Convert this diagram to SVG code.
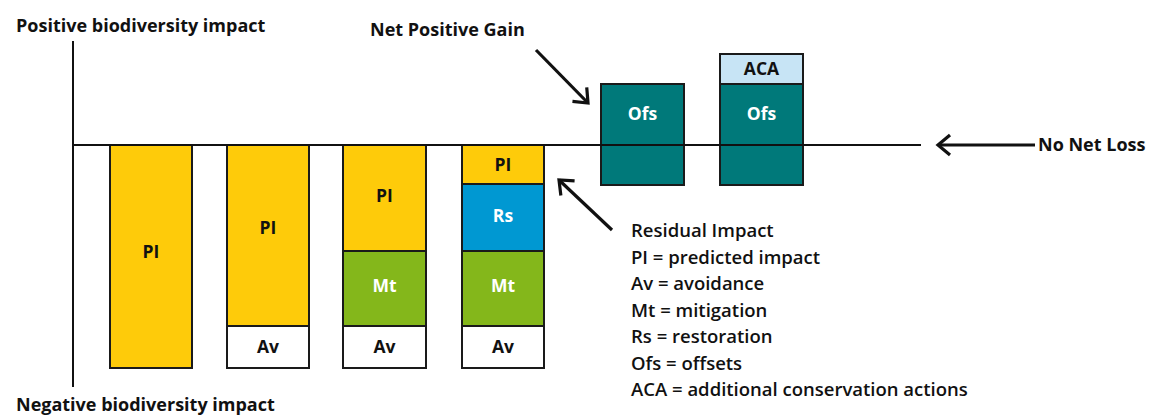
<svg xmlns="http://www.w3.org/2000/svg" width="1149" height="417" viewBox="0 0 1149 417">
<defs>
<style>
.t{font-family:"Open Sans","Liberation Sans",sans-serif;font-weight:700;fill:#111;}
.h{font-size:18px;}
.lab{font-size:17.5px;text-anchor:middle;}
.w{fill:#fff;}
.leg{font-family:"Open Sans","Liberation Sans",sans-serif;font-weight:600;font-size:18.5px;fill:#111;}
.box{stroke:#1a1a1a;stroke-width:2;}
.pi{fill:#FECB0A;}
.av{fill:#ffffff;}
.mt{fill:#84B71B;}
.rs{fill:#0098D2;}
.ofs{fill:#00797A;}
.aca{fill:#C7E4F5;}
.arr{stroke:#111;stroke-width:3.2;fill:none;marker-end:url(#ah);}
</style>
<marker id="ah" viewBox="-16 -12 20 24" refX="0" refY="0" markerWidth="20" markerHeight="24" markerUnits="userSpaceOnUse" orient="auto">
<path d="M-12,-10 L0,0 L-12,10" fill="none" stroke="#111" stroke-width="3.2" stroke-linejoin="miter"/>
</marker>
</defs>
<rect width="1149" height="417" fill="#ffffff"/>

<g id="axis-labels">
<text class="t h" x="16" y="32">Positive biodiversity impact</text>
<text class="t h" x="16" y="411">Negative biodiversity impact</text>
</g>

<g id="bar1">
<rect class="box pi" x="110" y="145" width="82" height="223"/>
<text class="t lab" x="151" y="258">PI</text>
</g>

<g id="bar2">
<rect class="box pi" x="227" y="145" width="82" height="181"/>
<rect class="box av" x="227" y="326" width="82" height="42"/>
<text class="t lab" x="268" y="234">PI</text>
<text class="t lab" x="268" y="353">Av</text>
</g>

<g id="bar3">
<rect class="box pi" x="343" y="145" width="83" height="106"/>
<rect class="box mt" x="343" y="251" width="83" height="75"/>
<rect class="box av" x="343" y="326" width="83" height="42"/>
<text class="t lab" x="384.5" y="202">PI</text>
<text class="t lab w" x="384.5" y="292">Mt</text>
<text class="t lab" x="384.5" y="353">Av</text>
</g>

<g id="bar4">
<rect class="box pi" x="462" y="145" width="82" height="39"/>
<rect class="box rs" x="462" y="184" width="82" height="67"/>
<rect class="box mt" x="462" y="251" width="82" height="75"/>
<rect class="box av" x="462" y="326" width="82" height="42"/>
<text class="t lab" x="503" y="171">PI</text>
<text class="t lab w" x="503" y="222">Rs</text>
<text class="t lab w" x="503" y="292">Mt</text>
<text class="t lab" x="503" y="353">Av</text>
</g>

<g id="ofs1">
<rect class="box ofs" x="601" y="84" width="83" height="101"/>
<text class="t lab w" x="642.5" y="120">Ofs</text>
</g>

<g id="ofs2">
<rect class="box aca" x="720" y="54" width="83" height="30"/>
<rect class="box ofs" x="720" y="84" width="83" height="101"/>
<text class="t lab" x="761.5" y="75">ACA</text>
<text class="t lab w" x="761.5" y="120">Ofs</text>
</g>

<g id="connectors">
<line x1="73" y1="41" x2="73" y2="387" stroke="#111" stroke-width="2"/>
<line x1="73" y1="145" x2="921" y2="145" stroke="#111" stroke-width="2"/>
<line class="arr" x1="536" y1="50" x2="588" y2="103"/>
<line class="arr" x1="612" y1="230" x2="559" y2="180"/>
<line class="arr" x1="1035" y1="145" x2="938" y2="145"/>
</g>

<g id="labels">
<text class="t h" x="370" y="36">Net Positive Gain</text>
<text class="t h" x="1038" y="151">No Net Loss</text>
</g>

<g id="legend">
<text class="leg" x="631" y="237">Residual Impact</text>
<text class="leg" x="631" y="264">PI = predicted impact</text>
<text class="leg" x="631" y="290">Av = avoidance</text>
<text class="leg" x="631" y="316.5">Mt = mitigation</text>
<text class="leg" x="631" y="343">Rs = restoration</text>
<text class="leg" x="631" y="369.5">Ofs = offsets</text>
<text class="leg" x="631" y="396">ACA = additional conservation actions</text>
</g>
</svg>
